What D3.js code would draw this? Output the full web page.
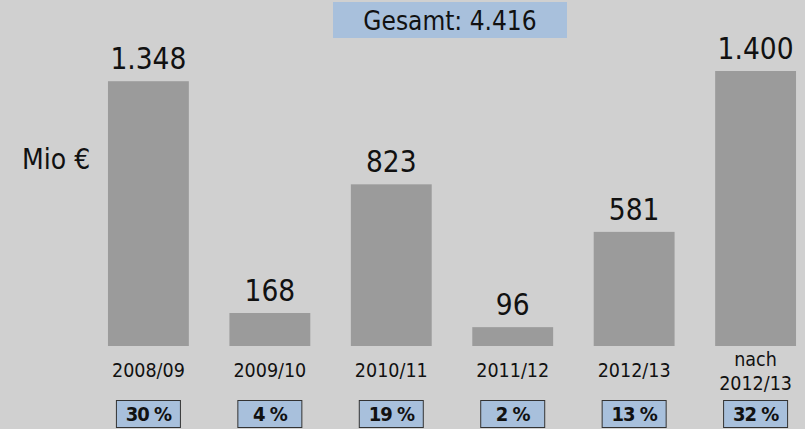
<!DOCTYPE html>
<html lang="de">
<head>
<meta charset="UTF-8">
<title>Gesamt</title>
<style>
  body { margin: 0; background: #d0d0d0; }
  svg { display: block; font-family: "DejaVu Sans Condensed", "DejaVu Sans", sans-serif; }
</style>
</head>
<body>
<div id="chart"></div>
<script src="https://d3js.org/d3.v7.min.js"></script>
<script>
// Daten
const categories = ["2008/09", "2009/10", "2010/11", "2011/12", "2012/13", "nach\n2012/13"];
const values = [1348, 168, 823, 96, 581, 1400];
const valueLabels = ["1.348", "168", "823", "96", "581", "1.400"];
const shares = ["30 %", "4 %", "19 %", "2 %", "13 %", "32 %"];
const totalLabel = "Gesamt: 4.416";
const unitLabel = "Mio €";

const WIDTH = 805, HEIGHT = 429;
const BASE = 346;
const BAR_COLOR = "#9b9b9b";
const BOX_COLOR = "#a8c0dc";

const svg = d3.select("#chart").append("svg")
  .attr("width", WIDTH).attr("height", HEIGHT);

svg.append("rect").attr("width", WIDTH).attr("height", HEIGHT).attr("fill", "#d0d0d0");

const x = d3.scaleBand()
  .domain(categories)
  .range([87.7, 816.3])
  .paddingInner(0.334)
  .paddingOuter(0.167);

const y = d3.scaleLinear()
  .domain([0, 1400])
  .range([BASE, 71]);

// Balken
svg.selectAll("rect.bar")
  .data(values)
  .join("rect")
  .attr("class", "bar")
  .attr("x", (d, i) => x(categories[i]))
  .attr("y", d => y(d))
  .attr("width", x.bandwidth())
  .attr("height", d => BASE - y(d))
  .attr("fill", BAR_COLOR);

// Werte über den Balken
svg.selectAll("text.val")
  .data(values)
  .join("text")
  .attr("class", "val")
  .attr("x", (d, i) => x(categories[i]) + x.bandwidth() / 2)
  .attr("y", d => y(d) - 12)
  .attr("text-anchor", "middle")
  .attr("font-size", 29.5)
  .attr("fill", "#111")
  .text((d, i) => valueLabels[i]);

// Kategorien
const cat = svg.selectAll("text.cat")
  .data(categories)
  .join("text")
  .attr("class", "cat")
  .attr("text-anchor", "middle")
  .attr("font-size", 19.5)
  .attr("fill", "#111");
cat.each(function(d) {
  const lines = d.split("\n");
  const cx = x(d) + x.bandwidth() / 2;
  const y0 = lines.length > 1 ? 366 : 377;
  d3.select(this).selectAll("tspan")
    .data(lines)
    .join("tspan")
    .attr("x", cx)
    .attr("y", (l, j) => y0 + j * 24)
    .text(l => l);
});

// Anteile
const shareG = svg.selectAll("g.share")
  .data(shares)
  .join("g")
  .attr("class", "share")
  .attr("transform", (d, i) => `translate(${x(categories[i]) + x.bandwidth() / 2}, 414)`);
shareG.append("rect")
  .attr("x", -32).attr("y", -13.5)
  .attr("width", 64).attr("height", 27)
  .attr("fill", BOX_COLOR)
  .attr("stroke", "#333")
  .attr("stroke-width", 1);
shareG.append("text")
  .attr("text-anchor", "middle")
  .attr("dy", "0.37em")
  .attr("font-size", 20)
  .attr("font-weight", "bold")
  .attr("letter-spacing", -1)
  .attr("fill", "#111")
  .text(d => d);

// Gesamt
svg.append("rect")
  .attr("x", 333).attr("y", 2)
  .attr("width", 234).attr("height", 36)
  .attr("fill", BOX_COLOR);
svg.append("text")
  .attr("x", 450).attr("y", 29.5)
  .attr("text-anchor", "middle")
  .attr("font-size", 26)
  .attr("fill", "#111")
  .text(totalLabel);

// Einheit
svg.append("text")
  .attr("x", 22).attr("y", 169)
  .attr("font-size", 28)
  .attr("fill", "#111")
  .text(unitLabel);
</script>
</body>
</html>
